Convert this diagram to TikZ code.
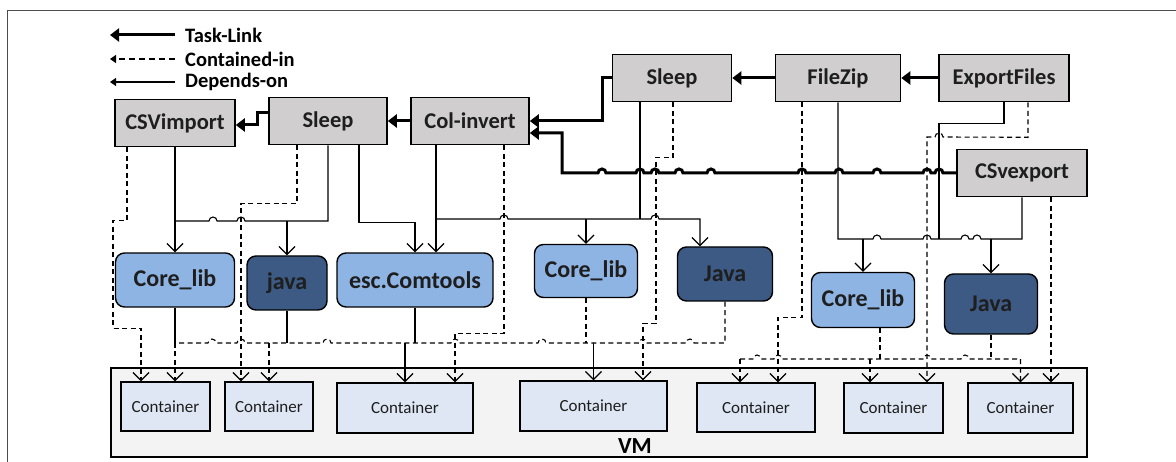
\documentclass[tikz,border=0pt]{standalone}
\usepackage{fontspec}
\setmainfont{Carlito}
\usetikzlibrary{arrows.meta}
\definecolor{taskgray}{RGB}{208,206,206}
\definecolor{libblue}{RGB}{142,180,227}
\definecolor{javablue}{RGB}{60,90,132}
\definecolor{contblue}{RGB}{222,231,243}
\definecolor{vmgray}{RGB}{243,243,243}
\definecolor{textgray}{RGB}{30,30,30}
% small jumps where a line passes over another one
\newcommand{\hopR}[2]{-- (#1-4,#2) arc[start angle=180,end angle=0,radius=4]}
\newcommand{\hopL}[2]{-- (#1+4,#2) arc[start angle=0,end angle=180,radius=4]}
\begin{document}
\begin{tikzpicture}[x=1pt,y=1pt,
    task node/.style={rectangle,draw,line width=1.6pt,fill=taskgray,text=textgray,
      font=\bfseries\fontsize{22.5}{22.5}\selectfont,minimum height=47pt,inner sep=0pt},
    lib node/.style={rectangle,rounded corners=9pt,draw,line width=1.4pt,fill=libblue,text=textgray,
      font=\bfseries\fontsize{24}{24}\selectfont,minimum height=54pt,inner sep=0pt},
    java node/.style={lib node,fill=javablue},
    cont node/.style={rectangle,draw,line width=1.4pt,fill=contblue,text=textgray,
      font=\fontsize{17}{17}\selectfont,minimum height=49pt,inner sep=0pt},
    legend text/.style={anchor=west,inner sep=0pt,font=\bfseries\fontsize{20.5}{20.5}\selectfont},
    tasklink/.style={line width=3pt,-{Triangle[length=9pt,width=13pt]}},
    depline/.style={line width=1.1pt},
    cinline/.style={line width=1.1pt,dash pattern=on 5pt off 3.5pt},
    barb/.style={-{Straight Barb[length=8pt,width=16pt,line width=1.2pt]}}]
\useasboundingbox (0,0) rectangle (1176,-462);
\draw[gray!60!black,line width=1pt] (7,-462) -- (7,-11) -- (1176,-11);

% legend
\node[legend text] (leg1) at (185,-35) {Task-Link};
\node[legend text] (leg2) at (185,-59) {Contained-in};
\node[legend text] (leg3) at (185,-82) {Depends-on};
\draw[tasklink] ([xshift=-10pt]leg1.west) -- ++(-65,0);
\draw[cinline,dash pattern=on 6pt off 4pt,-{Triangle[length=6pt,width=8pt]}] ([xshift=-10pt]leg2.west) -- ++(-65,0);
\draw[depline,-{Triangle[length=6pt,width=8pt]}] ([xshift=-10pt]leg3.west) -- ++(-65,0);

% VM and containers
\node[draw,line width=1.4pt,fill=vmgray,minimum width=976pt,minimum height=89pt,inner sep=0pt] (VM) at (599,-412.5) {};
\node[font=\bfseries\fontsize{23}{23}\selectfont,inner sep=0pt] (VMname) at (635,-446) {VM};
\node[cont node,minimum width=89pt] (C1) at (165.5,-406.5) {Container};
\node[cont node,minimum width=88pt] (C2) at (269,-406.5) {Container};
\node[cont node,minimum width=136pt,minimum height=50pt] (C3) at (405,-408) {Container};
\node[cont node,minimum width=147pt,minimum height=50pt] (C4) at (593.5,-406) {Container};
\node[cont node,minimum width=118pt] (C5) at (756,-407.5) {Container};
\node[cont node,minimum width=99pt,minimum height=50pt] (C6) at (893.5,-408) {Container};
\node[cont node,minimum width=105pt,minimum height=50pt] (C7) at (1020.5,-408) {Container};

% tasks
\node[task node,minimum width=120pt] (1) at (175,-123) {CSVimport};
\node[task node,minimum width=118pt] (2) at (328,-121) {Sleep};
\node[task node,minimum width=118pt] (3) at (470,-121) {Col-invert};
\node[task node,minimum width=119pt] (4) at (672,-78) {Sleep};
\node[task node,minimum width=125pt] (5) at (838,-78) {FileZip};
\node[task node,minimum width=130pt] (6) at (1004,-78) {ExportFiles};
\node[task node,minimum width=130pt] (7) at (1022,-173) {CSvexport};

% libraries
\node[lib node,minimum width=119pt] (L1) at (175,-280) {Core\_lib};
\node[java node,minimum width=80pt] (L2) at (287,-283) {java};
\node[lib node,minimum width=156pt] (L3) at (415,-280) {esc.Comtools};
\node[lib node,minimum width=103pt,minimum height=53pt] (L4) at (586,-271) {Core\_lib};
\node[java node,minimum width=95pt] (L5) at (725,-274) {Java};
\node[lib node,minimum width=103pt,minimum height=55pt] (L6) at (863,-300) {Core\_lib};
\node[java node,minimum width=93pt,minimum height=60pt] (L7) at (991,-304) {Java};

% task links
\draw[tasklink] ([yshift=8pt]2.west) -- (257,-113) |- ([yshift=-2pt]1.east);
\draw[tasklink] (3.west) -- (2.east);
\draw[tasklink] (4.west) -- (602,-78) |- (3.east);
\draw[tasklink] (5.west) -- (4.east);
\draw[tasklink] (6.west) -- (5.east);
\draw[tasklink] (7.west) \hopL{939}{-173} \hopL{927}{-173} \hopL{877}{-173} \hopL{839}{-173} \hopL{802}{-173}
  \hopL{711}{-173} \hopL{679}{-173} \hopL{655}{-173} \hopL{640}{-173} \hopL{602}{-173} -- (562,-173) |- ([yshift=-12pt]3.east);

% depends-on
\draw[depline,barb] (1.south) -- (L1.north);
\draw[depline] (2.south) -- (328,-221) \hopL{241}{-221} \hopL{213}{-221} -- (175,-221);
\draw[depline,barb] (L2.north |- 0,-221) -- (L2.north);
\draw[depline,barb] ([xshift=31pt]2.south) -- ++(0,-77) -| (L3.north);
\draw[depline,barb] ([xshift=-34pt]3.south) -- ([xshift=21pt]L3.north);
\draw[depline,barb] (436,-219) \hopR{504}{-219} -- (640,-219) \hopR{655}{-219} -| ([xshift=-25pt]L5.north);
\draw[depline] ([xshift=-32pt]4.south) -- (640,-219);
\draw[depline,barb] (L4.north |- 0,-219) -- (L4.north);
\draw[depline] (5.south) -- (838,-239) \hopR{877}{-239} \hopR{927}{-239} \hopR{965}{-239} \hopR{977}{-239} -| (7.south);
\draw[depline] (6.south) -- ++(0,-21) -| (939,-239);
\draw[depline,barb] (L6.north |- 0,-239) -- (L6.north);
\draw[depline,barb] (L7.north |- 0,-239) -- (L7.north);

% contained-in
\draw[cinline,barb] ([xshift=-48pt]1.south) -- ++(0,-73) -- ++(-14,0) -- ++(0,-108) -| ([xshift=-24.5pt]C1.north);
\draw[cinline,barb] ([xshift=-31pt]2.south) -- ++(0,-58) -| ([xshift=-28pt]C2.north);
\draw[cinline,barb] ([xshift=34pt]3.south) -- ++(0,-188) -| ([xshift=50pt]C3.north);
\draw[cinline,barb] ([xshift=1pt]4.south) -- ++(0,-55) -- ++(-17,0) -- ++(0,-166) -| ([xshift=49.5pt]C4.north);
\draw[cinline,barb] ([xshift=-36pt]5.south) -- ++(0,-215) -| ([xshift=22pt]C5.north);
\draw[cinline,barb] ([xshift=24pt]6.south) -- ++(0,-35) \hopL{939}{-137} -| ([xshift=33.5pt]C6.north);
\draw[cinline,barb] ([xshift=29pt]7.south) -- ([xshift=29pt]7.south |- C7.north);

% libraries to containers
\draw[depline] (L1.south) -- (L1.south |- 0,-343);
\draw[depline] (L2.south) -- (L2.south |- 0,-343);
\draw[depline] (L3.south) -- (L3.south |- 0,-343);
\draw[cinline] (L4.south) -- (L4.south |- 0,-343);
\draw[cinline] (L5.south) -- (725,-343) \hopL{690}{-343} \hopL{643}{-343} \hopL{542}{-343} \hopL{455}{-343}
  \hopL{327}{-343} \hopL{241}{-343} \hopL{212}{-343} -- (175,-343);
\draw[cinline,barb] (L1.south |- 0,-343) -- (L1.south |- C1.north);
\draw[cinline,barb] (C2.north |- 0,-343) -- (C2.north);
\draw[depline,barb] (C3.north |- 0,-343) -- (C3.north);
\draw[depline,barb] (C4.north |- 0,-343) -- (C4.north);
\draw[cinline] ([xshift=17pt]L6.south) -- ++(0,-31);
\draw[cinline] (L7.south) -- (L7.south |- 0,-359);
\draw[cinline,barb] ([xshift=-16pt]C5.north |- 0,-359) -- ([xshift=-16pt]C5.north);
\draw[cinline,barb] ([xshift=-23.5pt]C6.north |- 0,-359) -- ([xshift=-23.5pt]C6.north);
\draw[cinline,barb] ([xshift=-16pt]C5.north |- 0,-359) \hopR{757}{-359} \hopR{778}{-359} \hopR{927}{-359} \hopR{965}{-359} -| (C7.north);
\end{tikzpicture}
\end{document}
